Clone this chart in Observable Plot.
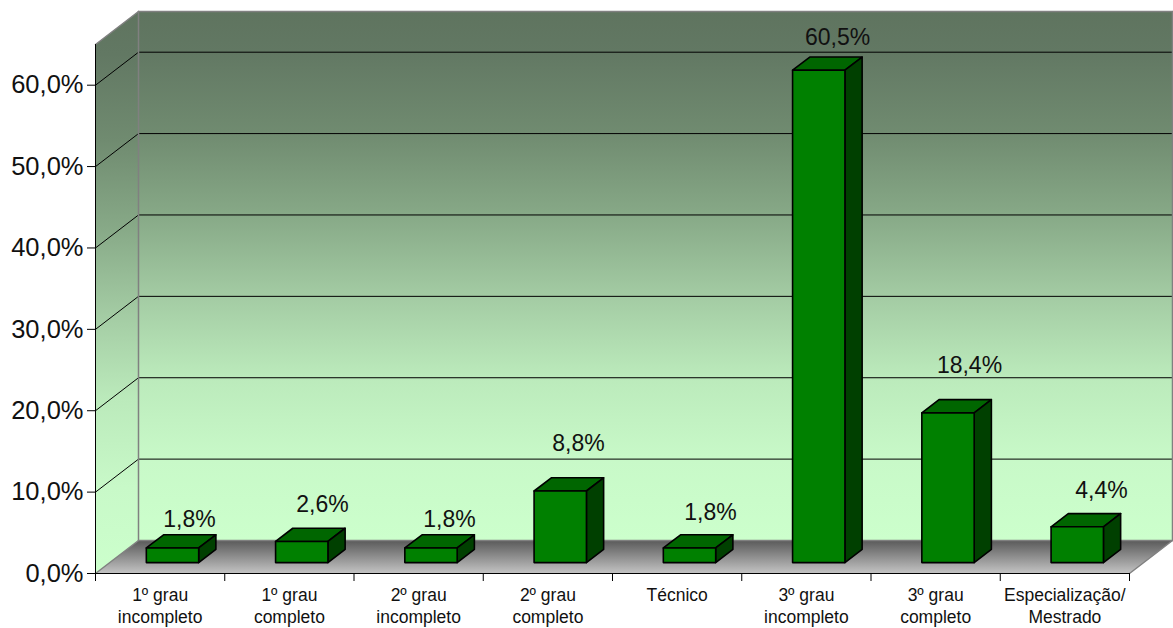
<!DOCTYPE html>
<html>
<head>
<meta charset="utf-8">
<style>
  html, body { margin: 0; padding: 0; background: #fff; }
  svg { display: block; }
</style>
<script src="https://cdn.jsdelivr.net/npm/d3@7"></script>
<script src="https://cdn.jsdelivr.net/npm/@observablehq/plot@0.6"></script>
</head>
<body>
<div id="chart"></div>
<script>
// Escolaridade: share of respondents per education level
const categories = [
  "1º grau\nincompleto", "1º grau\ncompleto", "2º grau\nincompleto", "2º grau\ncompleto",
  "Técnico", "3º grau\nincompleto", "3º grau\ncompleto", "Especialização/\nMestrado"
];
const values = [1.8, 2.6, 1.8, 8.8, 1.8, 60.5, 18.4, 4.4];
const yTicks = [0, 10, 20, 30, 40, 50, 60];
const yTop = 65;

// Hand placement of each value label relative to its bar
const labelShift = [0.227, 0.256, 0.239, 0.237, 0.258, 0.241, 0.262, 0.283];
const labelLift = [4.83, 5.88, 4.83, 7.17, 5.69, 5.35, 7.15, 5.8];

// Oblique projection: one unit of depth moves right and up, in data units
const depthX = 0.3327;
const depthY = 4.054;
const project = (cat, val, depth) => ({x: cat + depth * depthX, y: val + depth * depthY});

const count = categories.length;
const percent = (v) => v.toFixed(1).replace(".", ",") + "%";

const polygon = (corners, options) =>
  Plot.line([...corners, corners[0]].map(([c, v, d]) => project(c, v, d)), {x: "x", y: "y", ...options});
const segment = (a, b, options) =>
  Plot.line([a, b].map(([c, v, d]) => project(c, v, d)), {x: "x", y: "y", ...options});

// Wall and floor gradients
function gradients() {
  const defs = d3.create("svg:defs");
  const add = (id, stops) => {
    const g = defs.append("linearGradient").attr("id", id).attr("x1", 0).attr("y1", 0).attr("x2", 0).attr("y2", 1);
    for (const [offset, color] of stops) g.append("stop").attr("offset", offset).attr("stop-color", color);
  };
  add("wall", [
    [0, "#5f745f"], [0.076, "#627863"], [0.23, "#708b70"], [0.385, "#87a987"],
    [0.537, "#a3cba3"], [0.69, "#bbeabb"], [0.846, "#c8f9c8"], [1, "#ccffcc"]
  ]);
  add("floor", [[0, "#5a5a5a"], [1, "#c4c4c4"]]);
  return defs.node();
}

// Bar geometry, in category and depth units
const barWidth = 0.405;
const barCentre = 0.486;
const barFront = 0.33;
const barBack = 0.73;

const barMarks = values.flatMap((v, i) => {
  const a = i + barCentre - barWidth / 2;
  const b = i + barCentre + barWidth / 2;
  const edge = {stroke: "#000", strokeWidth: 1.6};
  return [
    polygon([[a, v, barFront], [b, v, barFront], [b, v, barBack], [a, v, barBack]], {fill: "#006600", ...edge}),
    polygon([[b, 0, barFront], [b, 0, barBack], [b, v, barBack], [b, v, barFront]], {fill: "#004000", ...edge}),
    polygon([[a, 0, barFront], [b, 0, barFront], [b, v, barFront], [a, v, barFront]], {fill: "#008000", ...edge})
  ];
});

const grey = {stroke: "#808080", strokeWidth: 1.5};
const grid = {stroke: "#000", strokeWidth: 1};

const chart = Plot.plot({
  width: 1173,
  height: 628,
  marginLeft: 95,
  marginRight: 44,
  marginTop: 44,
  marginBottom: 55,
  style: {fontFamily: "'Liberation Sans', Arial, sans-serif", background: "#fff", color: "#111"},
  x: {domain: [0, count], axis: null},
  y: {domain: [0, yTop], axis: null},
  marks: [
    gradients,
    polygon([[0, 0, 0], [count, 0, 0], [count, 0, 1], [0, 0, 1]], {fill: "url(#floor)", stroke: "none"}),
    polygon([[0, 0, 0], [0, yTop, 0], [0, yTop, 1], [0, 0, 1]], {fill: "url(#wall)", stroke: "none"}),
    polygon([[0, 0, 1], [count, 0, 1], [count, yTop, 1], [0, yTop, 1]], {fill: "url(#wall)", stroke: "none"}),

    // Grid lines across the side wall and the back wall
    ...yTicks.slice(1).flatMap((t) => [
      segment([0, t, 0], [0, t, 1], grid),
      segment([0, t, 1], [count, t, 1], grid)
    ]),

    // Grey edges of the box
    segment([0, 0, 1], [0, yTop, 1], grey),
    segment([0, yTop, 0], [0, yTop, 1], grey),
    segment([0, yTop, 1], [count, yTop, 1], grey),
    segment([count, 0, 1], [count, yTop, 1], grey),
    segment([0, 0, 1], [count, 0, 1], grey),
    segment([0, 0, 0], [0, 0, 1], grey),
    segment([count, 0, 0], [count, 0, 1], grey),

    ...barMarks,

    // Front axis lines
    segment([0, 0, 0], [0, yTop, 0], {stroke: "#000", strokeWidth: 1}),
    segment([0, 0, 0], [count, 0, 0], {stroke: "#000", strokeWidth: 1}),

    Plot.axisY({
      ticks: yTicks,
      tickFormat: percent,
      tickSize: 8,
      tickPadding: 4,
      fontSize: 25.5,
      stroke: "#000",
      label: null
    }),
    Plot.axisX({
      ticks: d3.range(count + 1),
      tickFormat: () => "",
      tickSize: 8,
      stroke: "#000",
      label: null
    }),
    Plot.axisX({
      ticks: categories.map((_, i) => i + 0.5),
      tickFormat: (t) => categories[t - 0.5],
      tickSize: 0,
      tickPadding: 12,
      fontSize: 17.5,
      lineHeight: 1.24,
      label: null
    }),

    // Value labels
    Plot.text(values, {
      x: (_, i) => i + 0.5 + labelShift[i],
      y: (v, i) => v + labelLift[i],
      text: percent,
      fontSize: 23,
      fill: "#111"
    })
  ]
});

document.getElementById("chart").append(chart);
</script>
</body>
</html>
